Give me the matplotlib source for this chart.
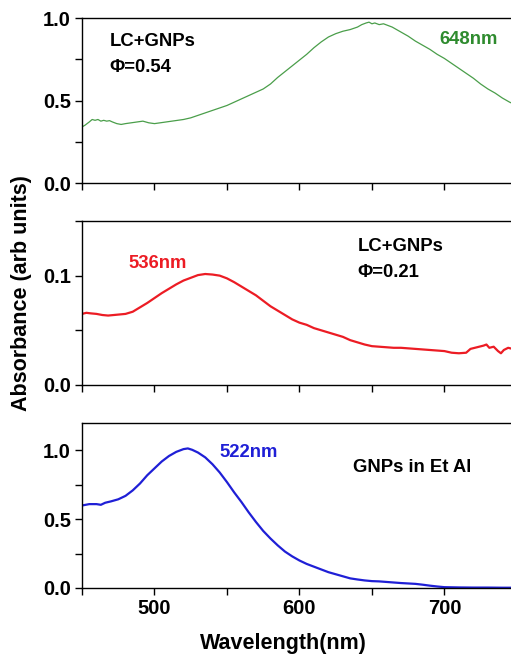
import numpy as np
import matplotlib
matplotlib.use('Agg')
import matplotlib.pyplot as plt
from matplotlib.ticker import MultipleLocator

plt.rcParams['font.family'] = ['Liberation Sans', 'DejaVu Sans']
plt.rcParams['font.weight'] = 'bold'

# ---- spectra ----
wl_green = [450, 452, 455, 457, 459, 461, 463, 465, 467, 469, 471, 474, 477, 480, 484, 488, 492, 496,
            500, 504, 508, 512, 516, 520, 525, 530, 535, 540, 545, 550, 555, 560, 565, 570, 575, 580,
            585, 590, 595, 600, 605, 610, 615, 620, 625, 630, 635, 640, 643, 646, 648, 650, 652, 655,
            658, 661, 664, 667, 670, 675, 680, 685, 690, 695, 700, 705, 710, 715, 720, 725, 730, 735,
            740, 745, 750]
abs_green = [0.34, 0.35, 0.37, 0.385, 0.38, 0.385, 0.375, 0.38, 0.375, 0.378, 0.37, 0.36, 0.355, 0.36,
             0.365, 0.37, 0.375, 0.365, 0.36, 0.365, 0.37, 0.375, 0.38, 0.385, 0.395, 0.41, 0.425, 0.44,
             0.455, 0.47, 0.49, 0.51, 0.53, 0.55, 0.57, 0.6, 0.64, 0.675, 0.71, 0.745, 0.78, 0.82, 0.855,
             0.885, 0.905, 0.92, 0.93, 0.945, 0.96, 0.97, 0.975, 0.965, 0.97, 0.96, 0.965, 0.955, 0.945,
             0.93, 0.915, 0.89, 0.86, 0.835, 0.81, 0.78, 0.755, 0.725, 0.695, 0.665, 0.635, 0.6, 0.57,
             0.545, 0.515, 0.49, 0.47]

wl_red = [450, 453, 456, 460, 464, 468, 472, 476, 480, 485, 490, 495, 500, 505, 510, 515, 520, 525,
          530, 535, 540, 545, 550, 555, 560, 565, 570, 575, 580, 585, 590, 595, 600, 605, 610, 615,
          620, 625, 630, 635, 640, 645, 650, 655, 660, 665, 670, 675, 680, 685, 690, 695, 700, 705,
          710, 715, 718, 721, 724, 727, 729, 731, 734, 737, 739, 741, 744, 747, 750]
abs_red = [0.065, 0.066, 0.0655, 0.065, 0.064, 0.0635, 0.064, 0.0645, 0.065, 0.067, 0.071, 0.075,
           0.0795, 0.084, 0.088, 0.092, 0.0955, 0.098, 0.1005, 0.1015, 0.101, 0.1, 0.0975, 0.094, 0.09,
           0.086, 0.082, 0.077, 0.072, 0.068, 0.064, 0.06, 0.057, 0.055, 0.052, 0.05, 0.048, 0.046,
           0.044, 0.041, 0.039, 0.037, 0.0355, 0.035, 0.0345, 0.034, 0.034, 0.0335, 0.033, 0.0325,
           0.032, 0.0315, 0.031, 0.0295, 0.029, 0.0295, 0.033, 0.034, 0.035, 0.036, 0.037, 0.034,
           0.035, 0.031, 0.029, 0.032, 0.034, 0.033, 0.034]

wl_blue = [450, 455, 460, 463, 466, 470, 475, 480, 485, 490, 495, 500, 505, 510, 515, 520, 523, 526,
           530, 535, 540, 545, 550, 555, 560, 565, 570, 575, 580, 585, 590, 595, 600, 605, 610, 615,
           620, 625, 630, 635, 640, 645, 650, 655, 660, 665, 670, 675, 680, 685, 690, 695, 700, 710,
           720, 730, 740, 750]
abs_blue = [0.60, 0.61, 0.61, 0.605, 0.62, 0.63, 0.645, 0.67, 0.71, 0.76, 0.82, 0.87, 0.92, 0.96, 0.99,
            1.01, 1.015, 1.005, 0.985, 0.95, 0.9, 0.84, 0.77, 0.695, 0.625, 0.55, 0.48, 0.415, 0.36,
            0.31, 0.265, 0.23, 0.2, 0.175, 0.155, 0.135, 0.115, 0.1, 0.085, 0.07, 0.062, 0.055, 0.05,
            0.048, 0.044, 0.04, 0.036, 0.033, 0.03, 0.024, 0.017, 0.011, 0.006, 0.004, 0.003, 0.003,
            0.002, 0.002]

fig = plt.figure(figsize=(5.11, 6.6), dpi=100)
left, width = 0.1605, 0.851
ax1 = fig.add_axes([left, 0.7227, width, 0.2500])
ax2 = fig.add_axes([left, 0.4167, width, 0.2485])
ax3 = fig.add_axes([left, 0.1091, width, 0.2500])

ax1.plot(wl_green, abs_green, color='#4a9e4a', lw=0.9)
ax2.plot(wl_red, abs_red, color='#ec1c24', lw=1.6)
ax3.plot(wl_blue, abs_blue, color='#1f1fd6', lw=1.6)

ax1.set_ylim(0, 1.0)
ax1.yaxis.set_major_locator(MultipleLocator(0.5))
ax1.yaxis.set_minor_locator(MultipleLocator(0.25))
ax2.set_ylim(0, 0.15)
ax2.yaxis.set_major_locator(MultipleLocator(0.1))
ax2.yaxis.set_minor_locator(MultipleLocator(0.05))
ax3.set_ylim(0, 1.2)
ax3.yaxis.set_major_locator(MultipleLocator(0.5))
ax3.yaxis.set_minor_locator(MultipleLocator(0.25))

for ax in (ax1, ax2, ax3):
    ax.set_xlim(450, 750)
    ax.xaxis.set_major_locator(MultipleLocator(100))
    ax.xaxis.set_minor_locator(MultipleLocator(50))
    ax.tick_params(which='both', direction='out', length=5, width=1, labelsize=14.5, pad=3)
    ax.tick_params(top=False, right=False)
    for s in ax.spines.values():
        s.set_linewidth(1)
    for lab in ax.get_yticklabels():
        lab.set_fontweight('bold')
ax1.tick_params(axis='x', labelbottom=False)
ax2.tick_params(axis='x', labelbottom=False)
for lab in ax3.get_xticklabels():
    lab.set_fontweight('bold')

ax3.set_xlabel('Wavelength(nm)', fontsize=15.5, fontweight='bold')
ax3.xaxis.set_label_coords(0.464, -0.27)
fig.text(0.043, 0.556, 'Absorbance (arb units)', rotation=90, ha='center', va='center',
         fontsize=15.5, fontweight='bold')

fs = 13.3
ax1.text(469, 0.855, 'LC+GNPs', fontsize=fs, fontweight='bold', va='center')
ax1.text(469, 0.70, '\u03A6=0.54', fontsize=fs, fontweight='bold', va='center')
ax1.text(717, 0.87, '648nm', fontsize=fs, fontweight='bold', color='#2e8b2e', ha='center', va='center')

ax2.text(482, 0.111, '536nm', fontsize=fs, fontweight='bold', color='#ec1c24', va='center')
ax2.text(640, 0.127, 'LC+GNPs', fontsize=fs, fontweight='bold', va='center')
ax2.text(640, 0.103, '\u03A6=0.21', fontsize=fs, fontweight='bold', va='center')

ax3.text(544.5, 0.985, '522nm', fontsize=fs, fontweight='bold', color='#1f1fd6', va='center')
ax3.text(637, 0.877, 'GNPs in Et Al', fontsize=fs, fontweight='bold', va='center')

fig.savefig('out.png', dpi=100)
